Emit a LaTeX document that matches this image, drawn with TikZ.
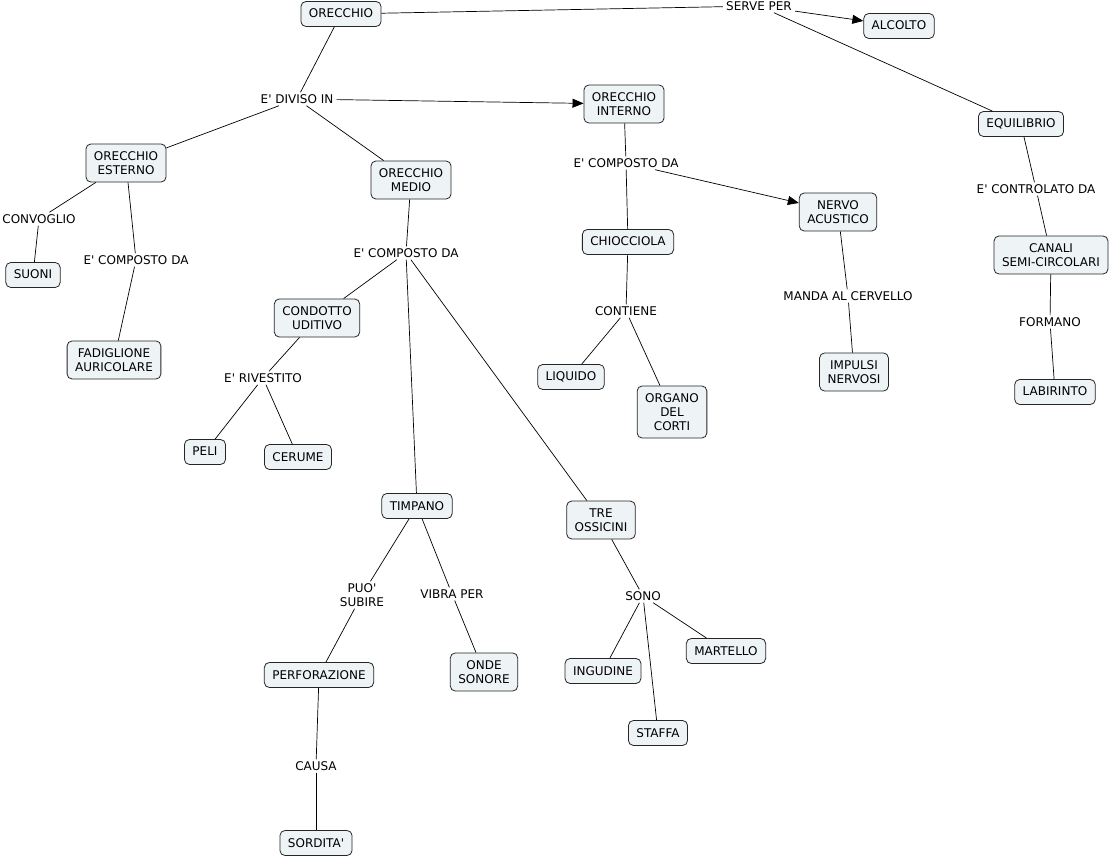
\documentclass[tikz,border=0pt]{standalone}
\usepackage{fontspec}
\setmainfont{DejaVu Sans}[Ligatures=TeXOff]
\usetikzlibrary{arrows.meta}
\definecolor{cfill}{HTML}{EEF3F5}
\begin{document}
\begin{tikzpicture}[x=1pt,y=-1pt,
  concept/.style={draw=black!85, fill=cfill, rounded corners=5pt, line width=0.8pt,
    inner xsep=8pt, inner ysep=7.5pt, font=\fontsize{12}{14}\selectfont, align=center},
  one/.style={text height=9pt, text depth=1pt},
  lbl/.style={inner xsep=3pt, inner ysep=2pt, font=\fontsize{12}{14}\selectfont, align=center},
  link/.style={draw=black, line width=0.7pt},
  arr/.style={link, -{Triangle[length=11pt,width=9pt]}}]
\fill[white] (0,0) rectangle (1114,858);
\useasboundingbox (0,0) rectangle (1114,858);
% concepts
\node[concept,one] (orecchio) at (341,14) {ORECCHIO};
\node[concept,one] (alcolto) at (899,26) {ALCOLTO};
\node[concept] (interno) at (624,104) {ORECCHIO\\INTERNO};
\node[concept,one] (equil) at (1021,124) {EQUILIBRIO};
\node[concept] (esterno) at (126,163) {ORECCHIO\\ESTERNO};
\node[concept] (medio) at (411,180) {ORECCHIO\\MEDIO};
\node[concept] (nervo) at (838,212) {NERVO\\ACUSTICO};
\node[concept,one] (chioc) at (628,242) {CHIOCCIOLA};
\node[concept] (canali) at (1051,255) {CANALI\\SEMI-CIRCOLARI};
\node[concept,one] (suoni) at (33,275) {SUONI};
\node[concept] (condotto) at (317,318) {CONDOTTO\\UDITIVO};
\node[concept] (fadig) at (114,360) {FADIGLIONE\\AURICOLARE};
\node[concept] (impulsi) at (854,372) {IMPULSI\\NERVOSI};
\node[concept,one] (liquido) at (571,377) {LIQUIDO};
\node[concept,one] (labir) at (1055,392) {LABIRINTO};
\node[concept] (organo) at (672,412) {ORGANO\\DEL\\CORTI};
\node[concept,one] (peli) at (205,452) {PELI};
\node[concept,one] (cerume) at (298,457) {CERUME};
\node[concept,one] (timpano) at (417,506) {TIMPANO};
\node[concept] (ossicini) at (601,520) {TRE\\OSSICINI};
\node[concept,one] (martello) at (726,651) {MARTELLO};
\node[concept,one] (ingudine) at (603,671) {INGUDINE};
\node[concept,one] (perfor) at (319,675) {PERFORAZIONE};
\node[concept] (onde) at (484,672) {ONDE\\SONORE};
\node[concept,one] (staffa) at (658,733) {STAFFA};
\node[concept,one] (sordita) at (316,843) {SORDITA'};
% labels
\node[lbl] (serve) at (759,6) {SERVE PER};
\node[lbl] (diviso) at (297,99) {E' DIVISO IN};
\node[lbl] (compint) at (626,163) {E' COMPOSTO DA};
\node[lbl] (controlato) at (1036,189) {E' CONTROLATO DA};
\node[lbl] (convoglio) at (39,219) {CONVOGLIO};
\node[lbl] (compmed) at (406,253) {E' COMPOSTO DA};
\node[lbl] (compest) at (136,260) {E' COMPOSTO DA};
\node[lbl] (manda) at (848,296) {MANDA AL CERVELLO};
\node[lbl] (contiene) at (626,311) {CONTIENE};
\node[lbl] (formano) at (1050,322) {FORMANO};
\node[lbl] (rivestito) at (263,378) {E' RIVESTITO};
\node[lbl] (puo) at (362,595) {PUO'\\SUBIRE};
\node[lbl] (vibra) at (452,594) {VIBRA PER};
\node[lbl] (sono) at (643,596) {SONO};
\node[lbl] (causa) at (316,766) {CAUSA};
% links
\draw[link] (orecchio) -- (serve);
\draw[arr] (serve) -- (alcolto);
\draw[link] (serve) -- (equil);
\draw[link] (orecchio) -- (diviso);
\draw[arr] (diviso) -- (interno);
\draw[link] (diviso) -- (esterno);
\draw[link] (diviso) -- (medio);
\draw[link] (esterno) -- (convoglio);
\draw[link] (convoglio) -- (suoni);
\draw[link] (esterno) -- (compest);
\draw[link] (compest) -- (fadig);
\draw[link] (medio) -- (compmed);
\draw[link] (compmed) -- (condotto);
\draw[link] (compmed) -- (timpano);
\draw[link] (compmed) -- (ossicini);
\draw[link] (condotto) -- (rivestito);
\draw[link] (rivestito) -- (peli);
\draw[link] (rivestito) -- (cerume);
\draw[link] (timpano) -- (puo);
\draw[link] (puo) -- (perfor);
\draw[link] (perfor) -- (causa);
\draw[link] (causa) -- (sordita);
\draw[link] (timpano) -- (vibra);
\draw[link] (vibra) -- (onde);
\draw[link] (ossicini) -- (sono);
\draw[link] (sono) -- (ingudine);
\draw[link] (sono) -- (staffa);
\draw[link] (sono) -- (martello);
\draw[link] (interno) -- (compint);
\draw[link] (compint) -- (chioc);
\draw[arr] (compint) -- (nervo);
\draw[link] (chioc) -- (contiene);
\draw[link] (contiene) -- (liquido);
\draw[link] (contiene) -- (organo);
\draw[link] (nervo) -- (manda);
\draw[link] (manda) -- (impulsi);
\draw[link] (equil) -- (controlato);
\draw[link] (controlato) -- (canali);
\draw[link] (canali) -- (formano);
\draw[link] (formano) -- (labir);
\end{tikzpicture}
\end{document}
